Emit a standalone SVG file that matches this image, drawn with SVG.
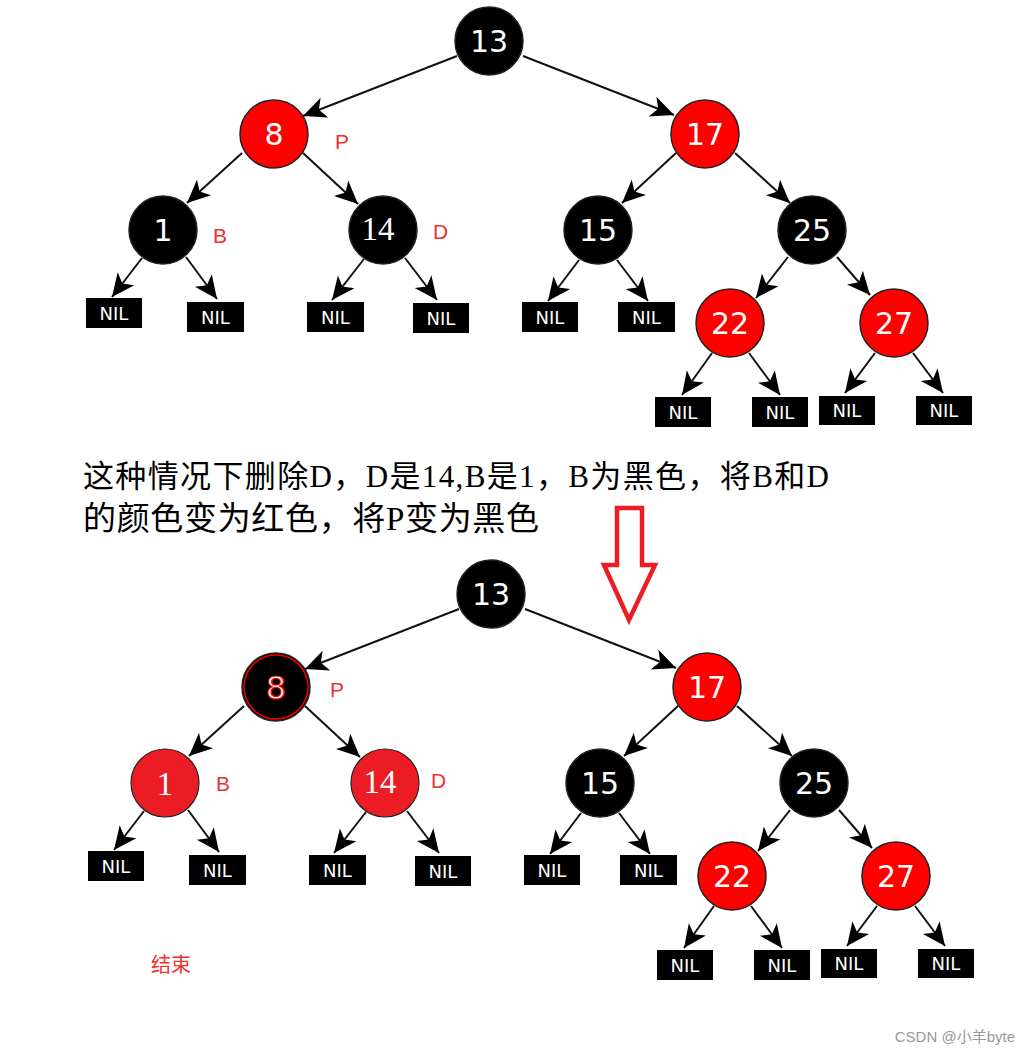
<svg xmlns="http://www.w3.org/2000/svg" width="1030" height="1053" viewBox="0 0 1030 1053">
<defs>
<marker id="ah" viewBox="-24 -12 26 24" refX="0" refY="0" markerWidth="26" markerHeight="24" orient="auto" markerUnits="userSpaceOnUse">
<path d="M0,0 L-23,-10.5 L-17,0 L-23,10.5 Z" fill="#000"/>
</marker>
</defs>
<style>
.e{stroke:#111;stroke-width:2;fill:none;marker-end:url(#ah)}
.bk{fill:#000;stroke:#222;stroke-width:1.5}
.rd{fill:#ff0000;stroke:#222;stroke-width:1.5}
.pr{fill:#ec1c24;stroke:#222;stroke-width:1.2}
.n{font-family:"DejaVu Sans",sans-serif;font-size:30px;fill:#fff;text-anchor:middle}
.ns{font-family:"Liberation Serif",serif;font-size:33px;fill:#fff;text-anchor:middle}
.nil{fill:#000}
.nt{font-family:"DejaVu Sans",sans-serif;font-size:18px;fill:#fff;text-anchor:middle}
.lb{font-family:"Liberation Sans",sans-serif;font-size:21px;fill:#f03030}
.tx{font-family:"Liberation Serif","Noto Sans CJK SC",serif;fill:#000}
</style>
<rect width="1030" height="1053" fill="#fff"/>

<g id="connectors">
<g id="edges-top">
<line class="e" x1="457" y1="56" x2="303" y2="116"/>
<line class="e" x1="523" y1="56" x2="674" y2="115"/>
<line class="e" x1="242" y1="153" x2="187" y2="203"/>
<line class="e" x1="303" y1="153" x2="358" y2="204"/>
<line class="e" x1="142" y1="258" x2="112" y2="297"/>
<line class="e" x1="186" y1="257" x2="217" y2="299"/>
<line class="e" x1="364" y1="259" x2="332" y2="300"/>
<line class="e" x1="405" y1="258" x2="437" y2="300"/>
<line class="e" x1="676" y1="153" x2="622" y2="203"/>
<line class="e" x1="735" y1="153" x2="790" y2="203"/>
<line class="e" x1="579" y1="260" x2="548" y2="301"/>
<line class="e" x1="617" y1="260" x2="648" y2="301"/>
<line class="e" x1="788" y1="257" x2="756" y2="298"/>
<line class="e" x1="837" y1="257" x2="870" y2="295"/>
<line class="e" x1="712" y1="353" x2="682" y2="395"/>
<line class="e" x1="749" y1="353" x2="780" y2="395"/>
<line class="e" x1="875" y1="353" x2="845" y2="393"/>
<line class="e" x1="913" y1="353" x2="943" y2="393"/>
</g>
<g id="edges-bottom" transform="translate(2,553)">
<line class="e" x1="457" y1="56" x2="303" y2="116"/>
<line class="e" x1="523" y1="56" x2="674" y2="115"/>
<line class="e" x1="242" y1="153" x2="187" y2="203"/>
<line class="e" x1="303" y1="153" x2="358" y2="204"/>
<line class="e" x1="142" y1="258" x2="112" y2="297"/>
<line class="e" x1="186" y1="257" x2="217" y2="299"/>
<line class="e" x1="364" y1="259" x2="332" y2="300"/>
<line class="e" x1="405" y1="258" x2="437" y2="300"/>
<line class="e" x1="676" y1="153" x2="622" y2="203"/>
<line class="e" x1="735" y1="153" x2="790" y2="203"/>
<line class="e" x1="579" y1="260" x2="548" y2="301"/>
<line class="e" x1="617" y1="260" x2="648" y2="301"/>
<line class="e" x1="788" y1="257" x2="756" y2="298"/>
<line class="e" x1="837" y1="257" x2="870" y2="295"/>
<line class="e" x1="712" y1="353" x2="682" y2="395"/>
<line class="e" x1="749" y1="353" x2="780" y2="395"/>
<line class="e" x1="875" y1="353" x2="845" y2="393"/>
<line class="e" x1="913" y1="353" x2="943" y2="393"/>
</g>
</g>

<g id="tree-top">
<g id="t-n13"><circle class="bk" cx="489" cy="41" r="34"/><text class="n" x="489" y="52">13</text></g>
<g id="t-n8"><circle class="rd" cx="274" cy="134" r="34"/><text class="n" x="274" y="145">8</text></g>
<g id="t-n17"><circle class="rd" cx="705" cy="134" r="34"/><text class="n" x="705" y="145">17</text></g>
<g id="t-n1"><circle class="bk" cx="163" cy="230" r="34"/><text class="n" x="163" y="241">1</text></g>
<g id="t-n14"><circle class="bk" cx="383" cy="230" r="34"/><text class="ns" x="378" y="240">14</text></g>
<g id="t-n15"><circle class="bk" cx="598" cy="230" r="34"/><text class="n" x="598" y="241">15</text></g>
<g id="t-n25"><circle class="bk" cx="812" cy="230" r="34"/><text class="n" x="812" y="241">25</text></g>
<g id="t-n22"><circle class="rd" cx="730" cy="323" r="34"/><text class="n" x="730" y="334">22</text></g>
<g id="t-n27"><circle class="rd" cx="894" cy="323" r="34"/><text class="n" x="894" y="334">27</text></g>
<g id="t-nil1"><rect class="nil" x="86" y="298" width="56" height="30"/><text class="nt" x="114" y="320">NIL</text></g>
<g id="t-nil2"><rect class="nil" x="187" y="302" width="57" height="30"/><text class="nt" x="215.5" y="324">NIL</text></g>
<g id="t-nil3"><rect class="nil" x="307" y="302" width="57" height="30"/><text class="nt" x="335.5" y="324">NIL</text></g>
<g id="t-nil4"><rect class="nil" x="413" y="303" width="56" height="30"/><text class="nt" x="441" y="325">NIL</text></g>
<g id="t-nil5"><rect class="nil" x="522" y="302" width="56" height="30"/><text class="nt" x="550" y="324">NIL</text></g>
<g id="t-nil6"><rect class="nil" x="618" y="302" width="57" height="30"/><text class="nt" x="646.5" y="324">NIL</text></g>
<g id="t-nil7"><rect class="nil" x="655" y="397" width="56" height="30"/><text class="nt" x="683" y="419">NIL</text></g>
<g id="t-nil8"><rect class="nil" x="752" y="397" width="56" height="30"/><text class="nt" x="780" y="419">NIL</text></g>
<g id="t-nil9"><rect class="nil" x="819" y="396" width="56" height="29"/><text class="nt" x="847" y="417">NIL</text></g>
<g id="t-nil10"><rect class="nil" x="916" y="396" width="56" height="29"/><text class="nt" x="944" y="417">NIL</text></g>
<text class="lb" x="335" y="149">P</text>
<text class="lb" x="213" y="243">B</text>
<text class="lb" x="433" y="239">D</text>
</g>

<g id="caption">
<text class="tx" x="83" y="487" font-size="31" textLength="746">这种情况下删除D，D是14,B是1，B为黑色，将B和D</text>
<text class="tx" x="83" y="530" font-size="33" textLength="456">的颜色变为红色，将P变为黑色</text>
</g>

<g id="down-arrow">
<path d="M617,508 L642,508 L642,565 L655,565 L629,620 L604,565 L617,565 Z" fill="none" stroke="#ec1c24" stroke-width="4.5" stroke-linejoin="miter"/>
</g>

<g id="tree-bottom" transform="translate(2,553)">
<g id="b-n13"><circle class="bk" cx="489" cy="41" r="34"/><text class="n" x="489" y="52">13</text></g>
<g id="b-n8"><circle class="bk" cx="274" cy="134" r="34"/><circle cx="274" cy="134" r="32" fill="none" stroke="#e00" stroke-width="1.5"/><text class="n" x="274" y="146" style="stroke:#e00;stroke-width:1.2;font-size:32px">8</text></g>
<g id="b-n17"><circle class="rd" cx="705" cy="134" r="34"/><text class="n" x="705" y="145">17</text></g>
<g id="b-n1"><circle class="pr" cx="163" cy="230" r="34"/><text class="ns" x="163" y="242">1</text></g>
<g id="b-n14"><circle class="pr" cx="383" cy="230" r="34"/><text class="ns" x="378" y="240">14</text></g>
<g id="b-n15"><circle class="bk" cx="598" cy="230" r="34"/><text class="n" x="598" y="241">15</text></g>
<g id="b-n25"><circle class="bk" cx="812" cy="230" r="34"/><text class="n" x="812" y="241">25</text></g>
<g id="b-n22"><circle class="rd" cx="730" cy="323" r="34"/><text class="n" x="730" y="334">22</text></g>
<g id="b-n27"><circle class="rd" cx="894" cy="323" r="34"/><text class="n" x="894" y="334">27</text></g>
<g id="b-nil1"><rect class="nil" x="86" y="298" width="56" height="30"/><text class="nt" x="114" y="320">NIL</text></g>
<g id="b-nil2"><rect class="nil" x="187" y="302" width="57" height="30"/><text class="nt" x="215.5" y="324">NIL</text></g>
<g id="b-nil3"><rect class="nil" x="307" y="302" width="57" height="30"/><text class="nt" x="335.5" y="324">NIL</text></g>
<g id="b-nil4"><rect class="nil" x="413" y="303" width="56" height="30"/><text class="nt" x="441" y="325">NIL</text></g>
<g id="b-nil5"><rect class="nil" x="522" y="302" width="56" height="30"/><text class="nt" x="550" y="324">NIL</text></g>
<g id="b-nil6"><rect class="nil" x="618" y="302" width="57" height="30"/><text class="nt" x="646.5" y="324">NIL</text></g>
<g id="b-nil7"><rect class="nil" x="655" y="397" width="56" height="30"/><text class="nt" x="683" y="419">NIL</text></g>
<g id="b-nil8"><rect class="nil" x="752" y="397" width="56" height="30"/><text class="nt" x="780" y="419">NIL</text></g>
<g id="b-nil9"><rect class="nil" x="819" y="396" width="56" height="29"/><text class="nt" x="847" y="417">NIL</text></g>
<g id="b-nil10"><rect class="nil" x="916" y="396" width="56" height="29"/><text class="nt" x="944" y="417">NIL</text></g>
</g>
<text class="lb" x="330" y="697">P</text>
<text class="lb" x="216" y="791">B</text>
<text class="lb" x="431" y="788">D</text>

<text id="end" x="151" y="972" font-family="Noto Sans CJK SC, sans-serif" font-size="20" fill="#f03030">结束</text>
<text id="watermark" x="1015" y="1042" text-anchor="end" font-family="Liberation Sans, Noto Sans CJK SC, sans-serif" font-size="15" fill="#999">CSDN @小羊byte</text>
</svg>
